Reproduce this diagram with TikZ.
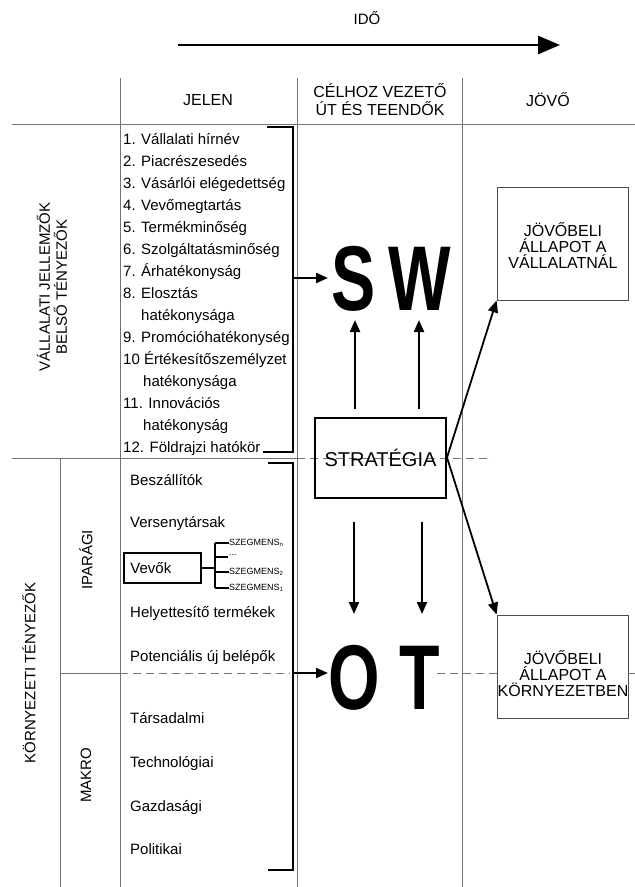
\documentclass[tikz,border=0pt]{standalone}
\usepackage{fontspec}
\setmainfont{Liberation Sans}
\usetikzlibrary{arrows.meta}
\begin{document}
\begin{tikzpicture}[x=1pt,y=-1pt,
  grid/.style={draw=black!55, line width=0.7pt},
  gdash/.style={draw=black!55, line width=0.7pt, dash pattern=on 8pt off 5pt},
  brk/.style={line width=2.2pt},
  arr/.style={line width=2.2pt, -{Triangle[length=12pt,width=10pt]}},
  txt/.style={font=\fontsize{15}{17}\selectfont, inner sep=0pt},
  hdr/.style={font=\fontsize{16}{18}\selectfont, inner sep=0pt, align=center},
  item/.style={txt, anchor=base west},
  big/.style={font=\fontsize{92}{92}\selectfont\bfseries, inner sep=0pt, anchor=base},
  fbox/.style={draw=black!70, line width=0.8pt},
  ftxt/.style={align=center, font=\fontsize{16}{16}\selectfont, inner sep=0pt},
  seg/.style={font=\fontsize{9}{10}\selectfont, inner sep=0pt, anchor=west}
]
\useasboundingbox (0,0) rectangle (635,887);
\fill[white] (0,0) rectangle (635,887);

% time arrow
\node[txt] (ido) at (367,18) {IDŐ};
\coordinate (t0) at (178,45);
\coordinate (t1) at (560,45);
\draw[line width=2.8pt, -{Triangle[length=22pt,width=18pt]}] (t0) -- (t1);

% grid
\draw[grid] (12,124) -- (635,124);
\draw[grid] (120,78) -- (120,887);
\draw[grid] (297,78) -- (297,887);
\draw[grid] (462,78) -- (462,887);
\draw[grid] (12,458) -- (297,458);
\draw[gdash] (297,458) -- (492,458);
\draw[grid] (60,458) -- (60,887);
\draw[grid] (60,673) -- (120,673);
\draw[gdash] (120,673) -- (290,673);
\draw[gdash] (437,673) -- (497,673);
\draw[gdash] (628,673) -- (635,673);

% headers
\node[hdr] (jelen) at (208,100) {JELEN};
\node[hdr] (celhoz) at (380,100) {CÉLHOZ VEZETŐ\\ÚT ÉS TEENDŐK};
\node[hdr] (jovo) at (548,100) {JÖVŐ};

% side labels
\node[txt, rotate=90, align=center] (vall) at (52,287) {VÁLLALATI JELLEMZŐK\\BELSŐ TÉNYEZŐK};
\node[txt, rotate=90] (korny) at (29,673) {KÖRNYEZETI TÉNYEZŐK};
\node[txt, rotate=90] (ipar) at (86,560) {IPARÁGI};
\node[txt, rotate=90] (makro) at (86,775) {MAKRO};

% internal list
\node[item] (n1) at (123,144) {1.};   \node[item] (i1) at (141,144) {Vállalati hírnév};
\node[item] (n2) at (123,166) {2.};   \node[item] (i2) at (141,166) {Piacrészesedés};
\node[item] (n3) at (123,188) {3.};   \node[item] (i3) at (141,188) {Vásárlói elégedettség};
\node[item] (n4) at (123,210) {4.};   \node[item] (i4) at (141,210) {Vevőmegtartás};
\node[item] (n5) at (123,232) {5.};   \node[item] (i5) at (141,232) {Termékminőség};
\node[item] (n6) at (123,254) {6.};   \node[item] (i6) at (141,254) {Szolgáltatásminőség};
\node[item] (n7) at (123,276) {7.};   \node[item] (i7) at (141,276) {Árhatékonyság};
\node[item] (n8) at (123,298) {8.};   \node[item] (i8) at (141,298) {Elosztás};
\node[item] (i8b) at (141,320) {hatékonysága};
\node[item] (n9) at (123,342) {9.};   \node[item] (i9) at (141,342) {Promócióhatékonység};
\node[item] (i10) at (123,364) {10 Értékesítőszemélyzet};
\node[item] (i10b) at (143,386) {hatékonysága};
\node[item] (i11) at (123,408) {11. Innovációs};
\node[item] (i11b) at (143,430) {hatékonyság};
\node[item] (i12) at (123,452) {12. Földrajzi hatókör};

% environment list
\node[item] (e1) at (130,485) {Beszállítók};
\node[item] (e2) at (130,527) {Versenytársak};
\node[txt, draw, line width=1.8pt, minimum width=77pt, minimum height=30pt, text height=11pt, anchor=west, inner xsep=6pt, align=left, text width=64pt] (vevok) at (123,568) {Vevők};
\node[item] (e4) at (130,617) {Helyettesítő termékek};
\node[item] (e5) at (130,661) {Potenciális új belépők};
\node[item] (m1) at (130,723) {Társadalmi};
\node[item] (m2) at (130,767) {Technológiai};
\node[item] (m3) at (130,811) {Gazdasági};
\node[item] (m4) at (130,854) {Politikai};

% segments
\coordinate (sj) at (215,568);
\node[seg] (s1) at (229,543) {SZEGMENS\textsubscript{n}};
\node[seg] (s2) at (229,555) {...};
\node[seg] (s3) at (229,572) {SZEGMENS\textsubscript{2}};
\node[seg] (s4) at (229,588) {SZEGMENS\textsubscript{1}};
\draw[line width=1.8pt] (vevok.east) -- (sj);
\draw[line width=1.8pt] (215,543) -- (215,588);
\draw[line width=1.8pt] (215,543) -- (s1.west);
\draw[line width=1.8pt] (215,557) -- (228,557);
\draw[line width=1.8pt] (215,572) -- (s3.west);
\draw[line width=1.8pt] (215,588) -- (s4.west);

% brackets
\coordinate (b1a) at (267,127);
\coordinate (b1b) at (293,127);
\coordinate (b1c) at (293,452);
\coordinate (b1d) at (263,452);
\coordinate (b1m) at (293,278);
\draw[brk] (b1a) -- (b1b) -- (b1c) -- (b1d);
\coordinate (b2a) at (268,463);
\coordinate (b2b) at (293,463);
\coordinate (b2c) at (293,870);
\coordinate (b2d) at (268,870);
\coordinate (b2m) at (293,673);
\draw[brk] (b2a) -- (b2b) -- (b2c) -- (b2d);

% SWOT letters
\node[big] (S) at (354,310) {\scalebox{0.72}[1]{S}};
\node[big] (W) at (420,310) {\scalebox{0.72}[1]{W}};
\node[big] (O) at (354,709) {\scalebox{0.72}[1]{O}};
\node[big] (T) at (420,709) {\scalebox{0.72}[1]{T}};
\coordinate (sIn) at (328,278);
\coordinate (oIn) at (328,673);
\draw[arr] (b1m) -- (sIn);
\draw[arr] (b2m) -- (oIn);

% strategy
\node[draw, line width=2pt, minimum width=131pt, minimum height=80pt, font=\fontsize{20}{20}\selectfont, inner sep=0pt] (strat) at (380.5,457.5) {STRATÉGIA};
\coordinate (su1) at (355,409);
\coordinate (su2) at (419,409);
\coordinate (sd1) at (354,522);
\coordinate (sd2) at (422,522);
\draw[arr] (su1) -- (355,320);
\draw[arr] (su2) -- (419,320);
\draw[arr] (sd1) -- (354,614);
\draw[arr] (sd2) -- (422,614);

% future boxes
\node[fbox, minimum width=131pt, minimum height=113pt] (fv) at (562.5,243.5) {};
\node[ftxt] (fvt) at (563,246) {JÖVŐBELI\\ÁLLAPOT A\\VÁLLALATNÁL};
\node[fbox, minimum width=131pt, minimum height=103pt] (fk) at (562.5,666.5) {};
\node[ftxt] (fkt) at (563,674) {JÖVŐBELI\\ÁLLAPOT A\\KÖRNYEZETBEN};
\draw[arr, line width=1.8pt] (strat.east) -- (fv.south west);
\draw[arr, line width=1.8pt] (strat.east) -- (fk.north west);
\end{tikzpicture}
\end{document}
